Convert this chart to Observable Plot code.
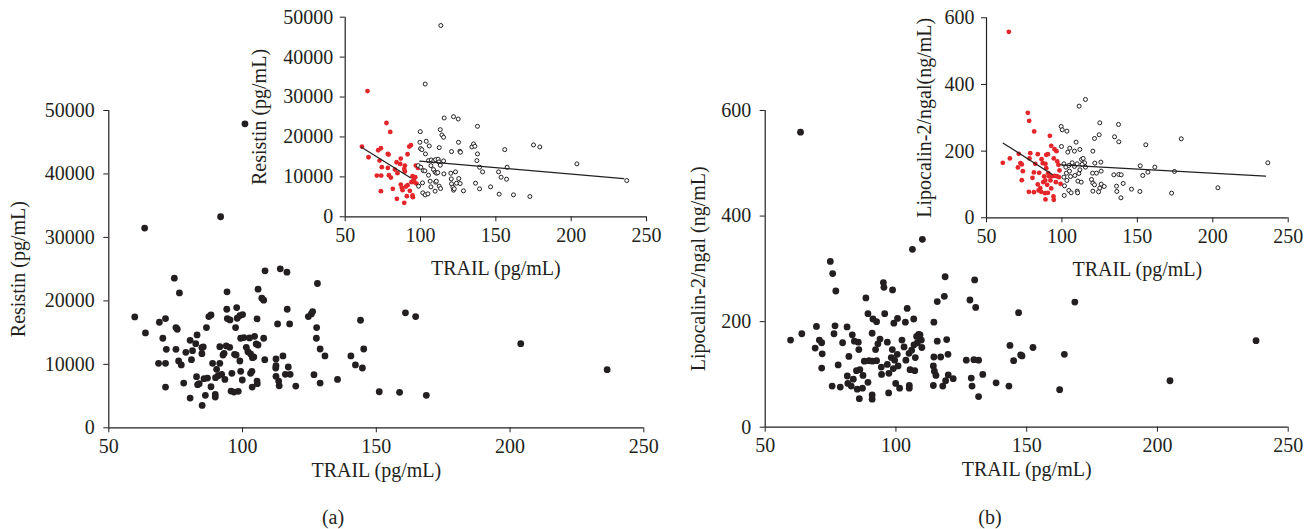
<!DOCTYPE html>
<html><head><meta charset="utf-8">
<script src="https://cdn.jsdelivr.net/npm/d3@7"></script>
<script src="https://cdn.jsdelivr.net/npm/@observablehq/plot@0.6"></script>
<style>
body{margin:0;background:#fff;}
#root{position:relative;width:1316px;height:529px;overflow:hidden;font-family:"Liberation Serif",serif;}
#root svg{position:absolute;}
.cap{position:absolute;font-size:20px;color:#231f20;transform:translate(-50%,-50%);font-family:"Liberation Serif",serif;}
</style></head>
<body><div id="root"></div>
<script>
// ---------- Panel (a): main scatter (TRAIL vs Resistin) ----------
const mainTrailA = [59.7,63.7,63.4,68.9,71.2,70.2,71.5,68.6,71.2,71.2,74.5,76.4,75.1,75.6,75.1,76.1,77.1,78.0,78.8,80.4,80.9,81.3,80.4,82.5,83.0,84.8,85.3,84.8,82.8,83.2,83.8,85.6,86.9,86.5,87.4,88.2,84.9,86.1,88.2,88.8,89.8,89.8,90.3,90.9,91.5,89.9,91.8,92.2,93.4,91.5,92.7,93.1,93.9,95.2,94.2,94.1,94.3,95.3,96.0,95.7,96.8,98.4,97.0,97.6,97.4,97.8,98.0,99.0,100.0,99.0,99.3,99.9,99.3,100.5,100.9,101.4,102.0,102.6,103.0,103.7,104.2,103.6,103.0,103.5,104.5,105.1,105.8,105.4,105.5,105.4,105.8,107.2,107.9,108.4,107.9,108.3,112.5,112.5,112.4,113.1,114.1,116.6,116.7,117.6,115.1,117.1,112.5,113.5,113.7,116.0,117.8,119.9,124.6,125.7,126.2,128.0,127.7,127.6,129.0,130.8,126.7,129.0,135.5,140.5,142.2,144.8,144.1,145.3,151.1,160.9,164.7,158.7,168.7,204.0,236.3];
const mainResistinA = [17470,14950,31470,16630,17210,14110,12370,10160,10160,6420,23580,21260,15790,15530,12370,10530,9900,7050,11900,13790,10740,12160,4680,13260,14630,12630,12740,11680,8050,6790,6950,7740,7840,15790,17530,17790,3530,5110,6470,10160,5260,4840,9210,8210,10160,7900,33260,8420,7630,12790,11470,11740,12900,12680,21420,18680,17210,17000,8580,5790,5630,5740,11580,11470,15790,18950,17260,17680,17840,10530,8900,7530,14110,14210,47900,12680,12000,14160,11630,11050,11160,6420,8580,8900,14420,13210,13050,7370,6950,17160,21840,20420,20110,24740,14110,10740,10840,9790,9420,16370,25050,24530,18680,16370,11320,9580,8110,7370,6630,8420,8420,6580,17530,17950,18320,22740,15790,14110,12420,11320,8370,7050,7630,11320,9900,9420,16950,12420,5680,18110,17530,5590,5120,13260,9160];

// ---------- Panel (a): inset, low-TRAIL group (red) and high-TRAIL group (open) ----------
const insetLowTrailA = [64.8,61.1,65.5,71.9,73.7,72.8,74.3,71.0,73.9,73.7,77.4,79.9,78.3,78.8,78.3,79.0,80.3,81.6,84.1,84.7,86.9,86.5,84.3,83.0,89.6,89.2,89.6,86.9,87.6,88.1,90.3,91.4,92.9,89.2,90.9,94.7,94.9,91.4,92.5,93.6,94.7,95.4,96.0,96.9,98.3,97.3,94.0,96.5];
const insetLowResistinA = [31500,17580,14920,16670,17170,14080,12420,10330,10330,6420,23500,21250,15750,15580,12250,10420,9830,7000,13670,10920,14580,13250,4500,11830,12830,12000,11330,8080,7250,6670,7580,7920,6500,3500,5170,5330,4920,15670,17580,17920,10170,9330,8670,12830,12250,8330,8670,9920];
const insetHighTrailA = [113.5,103.1,99.8,99.6,100.0,100.9,103.8,105.8,103.3,105.3,107.1,108.8,110.0,111.7,112.2,113.1,115.3,112.4,113.1,114.2,115.3,115.7,121.9,125.0,125.2,120.6,126.1,126.5,98.5,100.2,101.8,102.9,105.3,106.9,108.6,109.7,110.6,111.5,115.5,98.7,101.3,106.4,106.9,110.0,110.5,112.4,113.3,109.7,101.5,103.1,104.9,120.1,123.2,120.4,125.4,120.6,123.9,126.3,121.5,121.9,128.5,122.4,134.1,135.2,136.1,137.8,137.8,137.4,139.2,141.2,136.5,139.2,146.5,152.2,151.8,153.5,157.1,157.5,155.9,161.7,172.6,175.0,179.2,203.8,236.9];
const insetHighResistinA = [47920,33250,21330,18670,17080,16830,18920,17750,15750,14080,14250,14000,14330,14420,13750,12920,14000,17330,21830,20500,19920,24750,25080,24500,18670,16330,16420,16170,12830,12420,11580,11500,10420,12830,11830,11170,10920,11080,10750,7670,8500,8920,7500,8670,8920,7670,7080,6420,6000,5500,5750,10920,11250,9500,9580,8250,8420,8330,7420,6670,6500,7000,17500,18250,17670,22670,15750,14080,12420,11250,8420,7000,7500,5670,11250,9920,9420,12420,16830,5500,5080,18000,17500,13250,9080];
// fitted trend lines (end points)
const fitLowTrailA = [60.8, 93.3];
const fitLowResistinA = [17450, 9800];
const fitHighTrailA = [99.5, 234.9];
const fitHighResistinA = [13950, 9550];

// ---------- Panel (b): main scatter (TRAIL vs Lipocalin-2/ngal) ----------
const mainTrailB = [63.5,59.7,64.0,69.6,70.7,71.6,69.1,71.8,71.6,75.6,78.7,77.9,74.9,75.8,77.0,76.7,76.3,79.6,81.3,82.0,83.3,84.1,85.6,85.8,88.5,89.3,91.2,92.6,90.9,87.9,89.7,91.0,92.6,81.4,84.9,86.2,87.4,83.7,81.6,82.9,85.2,87.2,89.3,86.0,90.9,90.9,92.2,93.1,93.9,94.4,94.5,95.2,95.4,95.7,96.7,97.3,97.2,98.7,99.2,100.6,98.6,98.2,96.7,99.0,100.8,99.5,100.5,99.9,101.4,102.3,103.1,103.8,103.6,104.3,105.0,105.4,105.1,105.1,106.3,110.1,106.8,106.0,106.9,107.4,107.2,107.9,108.7,108.2,109.2,109.7,109.9,114.5,115.8,118.8,118.5,115.8,119.4,114.5,117.1,119.9,114.3,114.7,115.3,114.3,117.9,119.0,120.0,121.9,126.9,129.8,131.6,128.3,130.1,130.5,128.8,129.1,133.2,131.6,138.3,143.2,143.6,145.0,147.7,148.2,146.9,152.4,168.4,164.4,162.6,204.8,237.7];
const mainLcnB = [559,165,177,191,165,160,150,139,112,78,76,118,314,291,258,192,177,160,190,134,175,163,161,147,245,215,205,200,178,125,126,125,126,97,107,109,98,91,83,78,72,74,85,54,61,53,147,158,167,114,100,274,265,215,161,102,65,260,197,206,147,132,119,111,116,127,138,83,74,165,152,127,199,225,140,109,79,74,337,356,205,146,156,132,107,172,176,160,175,165,151,199,238,285,248,163,166,133,133,138,116,106,98,79,78,88,99,92,127,128,127,241,279,227,93,78,100,58,84,78,155,126,137,135,217,151,237,138,71,88,164];

// ---------- Panel (b): inset ----------
const insetLowTrailB = [64.8,60.8,65.5,71.4,72.5,73.4,70.8,74.1,73.4,78.1,81.4,80.5,77.4,78.3,81.6,79.0,78.5,82.3,84.0,84.9,86.5,87.3,89.1,89.6,92.0,92.9,95.1,96.4,94.6,91.3,93.5,95.1,96.6,84.0,87.6,88.9,90.2,85.6,84.5,86.2,88.7,90.7,92.9,89.1,94.4,94.6,96.9,97.7,98.4,98.0,99.1,96.0,92.4,90.9,88.2,81.4,89.6,90.7];
const insetLowLcnB = [558,165,178,192,164,160,151,140,113,78,77,120,315,291,259,194,178,162,191,135,176,164,162,149,246,216,206,200,178,125,125,126,125,100,107,112,99,89,82,78,74,75,88,55,64,54,169,159,142,122,102,107,112,134,124,136,189,191];
const insetHighTrailB = [99.5,100.2,103.3,99.7,103.9,105.2,108.3,109.4,111.9,111.4,115.6,101.3,102.6,104.6,106.8,108.3,110.1,113.0,114.1,115.0,113.4,115.6,101.3,103.0,105.0,105.7,108.6,111.2,111.9,103.3,101.7,110.6,112.8,104.6,106.1,110.1,110.4,101.5,120.5,121.6,124.7,125.1,121.8,125.8,120.3,122.9,126.0,119.6,120.5,121.6,126.0,128.0,125.1,120.5,124.3,134.9,137.7,137.5,134.4,137.7,139.3,136.2,140.6,136.4,139.1,146.1,151.7,151.9,153.6,155.6,157.0,161.6,172.7,174.6,179.1,203.4,236.5];
const insetHighLcnB = [274,264,260,214,197,209,200,227,205,335,355,162,152,157,165,154,162,175,178,165,160,152,122,134,140,124,127,133,144,112,96,110,107,82,75,80,75,67,200,238,249,285,164,167,134,134,140,115,104,99,101,94,89,80,78,243,228,280,129,130,129,95,103,79,60,86,79,156,127,219,137,152,74,139,237,90,165];
const fitLowTrailB = [61.1, 93.6];
const fitLowLcnB = [224, 130];
const fitHighTrailB = [99.1, 235];
const fitHighLcnB = [159, 125];

// ---------- shared tick labels ----------
const xTicks = [50, 100, 150, 200, 250];
const resistinTicks = [0, 10000, 20000, 30000, 40000, 50000];
const lcnTicks = [0, 200, 400, 600];

const INK = "#231f20";
const RED = "#e4262a";
const root = document.getElementById("root");
const pts = (xs, ys) => xs.map((x, i) => ({x, y: ys[i]}));

function makePlot(c) {
  const svg = Plot.plot({
    width: c.width, height: c.height,
    marginLeft: c.ml, marginRight: c.mr, marginTop: c.mt, marginBottom: c.mb,
    x: {domain: [50, 250]},
    y: {domain: c.yDomain},
    style: {fontFamily: '"Liberation Serif", serif', fontSize: "20px", color: INK, background: "transparent", overflow: "visible"},
    marks: [
      Plot.ruleY([c.yDomain[0]], {stroke: INK, strokeWidth: 1.2}),
      Plot.ruleX([50], {stroke: INK, strokeWidth: 1.2}),
      Plot.axisX({ticks: xTicks, tickSize: 5, tickPadding: 6, tickFormat: d => String(d),
        label: c.xLabel, labelAnchor: "center", labelOffset: c.xlo, labelArrow: "none"}),
      Plot.axisY({ticks: c.yTicks, tickSize: 5, tickPadding: c.ypad, tickFormat: d => String(d),
        label: c.yLabel, labelAnchor: "center", labelOffset: c.ylo, labelArrow: "none"}),
      ...c.marks
    ]
  });
  svg.style.position = "absolute";
  svg.style.left = c.left + "px";
  svg.style.top = c.top + "px";
  root.appendChild(svg);
}

// Panel (a) main
makePlot({left: 0, top: 0, width: 660, height: 529, ml: 108.3, mr: 16.7, mt: 110, mb: 101.7,
  yDomain: [0, 50000], yTicks: resistinTicks, ypad: 9,
  xLabel: "TRAIL (pg/mL)", xlo: 49, yLabel: "Resistin (pg/mL)", ylo: 98,
  marks: [Plot.dot(pts(mainTrailA, mainResistinA), {x: "x", y: "y", r: 3.4, fill: INK, stroke: "none"})]});

// Panel (a) inset
makePlot({left: 230, top: 0, width: 430, height: 300, ml: 114.7, mr: 14, mt: 16.7, mb: 83.7,
  yDomain: [0, 50000], yTicks: resistinTicks, ypad: 7,
  xLabel: "TRAIL (pg/mL)", xlo: 58, yLabel: "Resistin (pg/mL)", ylo: 93,
  marks: [
    Plot.dot(pts(insetLowTrailA, insetLowResistinA), {x: "x", y: "y", r: 2.4, fill: RED, stroke: "none"}),
    Plot.dot(pts(insetHighTrailA, insetHighResistinA), {x: "x", y: "y", r: 2, fill: "white", stroke: INK, strokeWidth: 1}),
    Plot.line(pts(fitLowTrailA, fitLowResistinA), {x: "x", y: "y", stroke: INK, strokeWidth: 1.2}),
    Plot.line(pts(fitHighTrailA, fitHighResistinA), {x: "x", y: "y", stroke: INK, strokeWidth: 1.2})
  ]});

// Panel (b) main
makePlot({left: 660, top: 0, width: 656, height: 529, ml: 104.7, mr: 28.3, mt: 110, mb: 102.3,
  yDomain: [0, 600], yTicks: lcnTicks, ypad: 9,
  xLabel: "TRAIL (pg/mL)", xlo: 49, yLabel: "Lipocalin-2/ngal (ng/mL)", ylo: 74,
  marks: [Plot.dot(pts(mainTrailB, mainLcnB), {x: "x", y: "y", r: 3.4, fill: INK, stroke: "none"})]});

// Panel (b) inset
makePlot({left: 880, top: 0, width: 436, height: 300, ml: 106, mr: 28.3, mt: 17.3, mb: 82.7,
  yDomain: [0, 600], yTicks: lcnTicks, ypad: 7,
  xLabel: "TRAIL (pg/mL)", xlo: 58, yLabel: "Lipocalin-2/ngal(ng/mL)", ylo: 70,
  marks: [
    Plot.dot(pts(insetLowTrailB, insetLowLcnB), {x: "x", y: "y", r: 2.4, fill: RED, stroke: "none"}),
    Plot.dot(pts(insetHighTrailB, insetHighLcnB), {x: "x", y: "y", r: 2, fill: "white", stroke: INK, strokeWidth: 1}),
    Plot.line(pts(fitLowTrailB, fitLowLcnB), {x: "x", y: "y", stroke: INK, strokeWidth: 1.2}),
    Plot.line(pts(fitHighTrailB, fitHighLcnB), {x: "x", y: "y", stroke: INK, strokeWidth: 1.2})
  ]});

// captions
for (const [t, x] of [["(a)", 333], ["(b)", 990]]) {
  const d = document.createElement("div");
  d.className = "cap"; d.textContent = t;
  d.style.left = x + "px"; d.style.top = "517px";
  root.appendChild(d);
}
</script>
</body></html>
